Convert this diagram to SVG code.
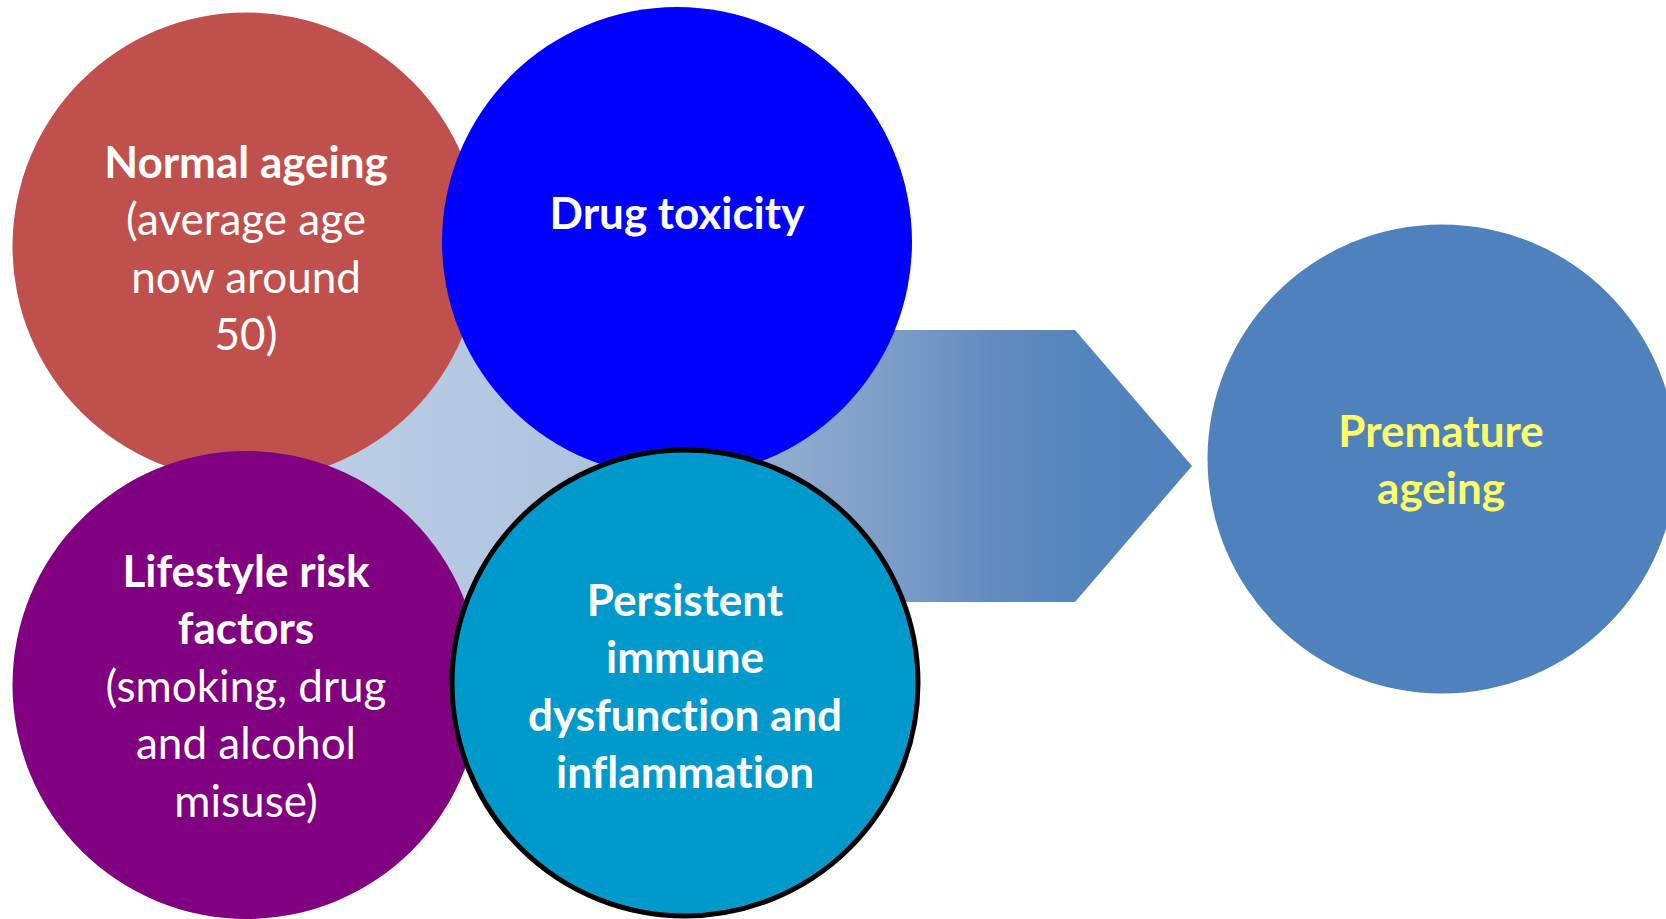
<svg xmlns="http://www.w3.org/2000/svg" width="1666" height="919" viewBox="0 0 1666 919">
  <style>
    .lbl { font-family: Lato, "Open Sans", "Liberation Sans", sans-serif; font-size: 44px; fill: #ffffff; text-anchor: middle; font-variant-ligatures: none; font-feature-settings: "liga" 0, "dlig" 0; }
    .b { font-weight: bold; }
    .y { fill: #ffff66; }
  </style>
  <defs>
    <linearGradient id="arrowGrad" gradientUnits="userSpaceOnUse" x1="246" y1="0" x2="1192" y2="0">
      <stop offset="0" stop-color="#c0d1e7"/>
      <stop offset="0.37" stop-color="#aec3df"/>
      <stop offset="0.67" stop-color="#7f9fc8"/>
      <stop offset="0.80" stop-color="#6189c0"/>
      <stop offset="0.88" stop-color="#5585bd"/>
      <stop offset="1" stop-color="#4f81bd"/>
    </linearGradient>
  </defs>
  <rect width="1666" height="919" fill="#ffffff"/>
  <g id="connectors">
    <polygon id="arrow" points="246,330 1075,330 1192,466 1075,602 246,602" fill="url(#arrowGrad)"/>
  </g>
  <g id="normal-ageing">
    <circle cx="246.5" cy="246.5" r="234" fill="#c0504d"/>
    <text class="lbl"><tspan class="b" x="246" y="178">Normal ageing</tspan><tspan x="246" y="235">(average age</tspan><tspan x="246" y="293">now around</tspan><tspan x="246" y="350">50)</tspan></text>
  </g>
  <g id="drug-toxicity">
    <circle cx="677" cy="242" r="235" fill="#0000ff"/>
    <text class="lbl b" x="677" y="229">Drug toxicity</text>
  </g>
  <g id="lifestyle">
    <circle cx="246.5" cy="685" r="234" fill="#800080"/>
    <text class="lbl"><tspan class="b" x="246" y="587">Lifestyle risk</tspan><tspan class="b" x="246" y="644">factors</tspan><tspan x="246" y="702">(smoking, drug</tspan><tspan x="246" y="759">and alcohol</tspan><tspan x="246" y="817">misuse)</tspan></text>
  </g>
  <g id="immune">
    <circle cx="685" cy="683" r="233" fill="#0099cc" stroke="#000000" stroke-width="5"/>
    <text class="lbl b"><tspan x="685" y="616">Persistent</tspan><tspan x="685" y="673">immune</tspan><tspan x="685" y="731">dysfunction and</tspan><tspan x="685" y="788">inflammation</tspan></text>
  </g>
  <g id="premature">
    <circle cx="1442" cy="459" r="234.5" fill="#4f81bd"/>
    <text class="lbl b y"><tspan x="1441" y="447">Premature</tspan><tspan x="1441" y="504">ageing</tspan></text>
  </g>
</svg>
